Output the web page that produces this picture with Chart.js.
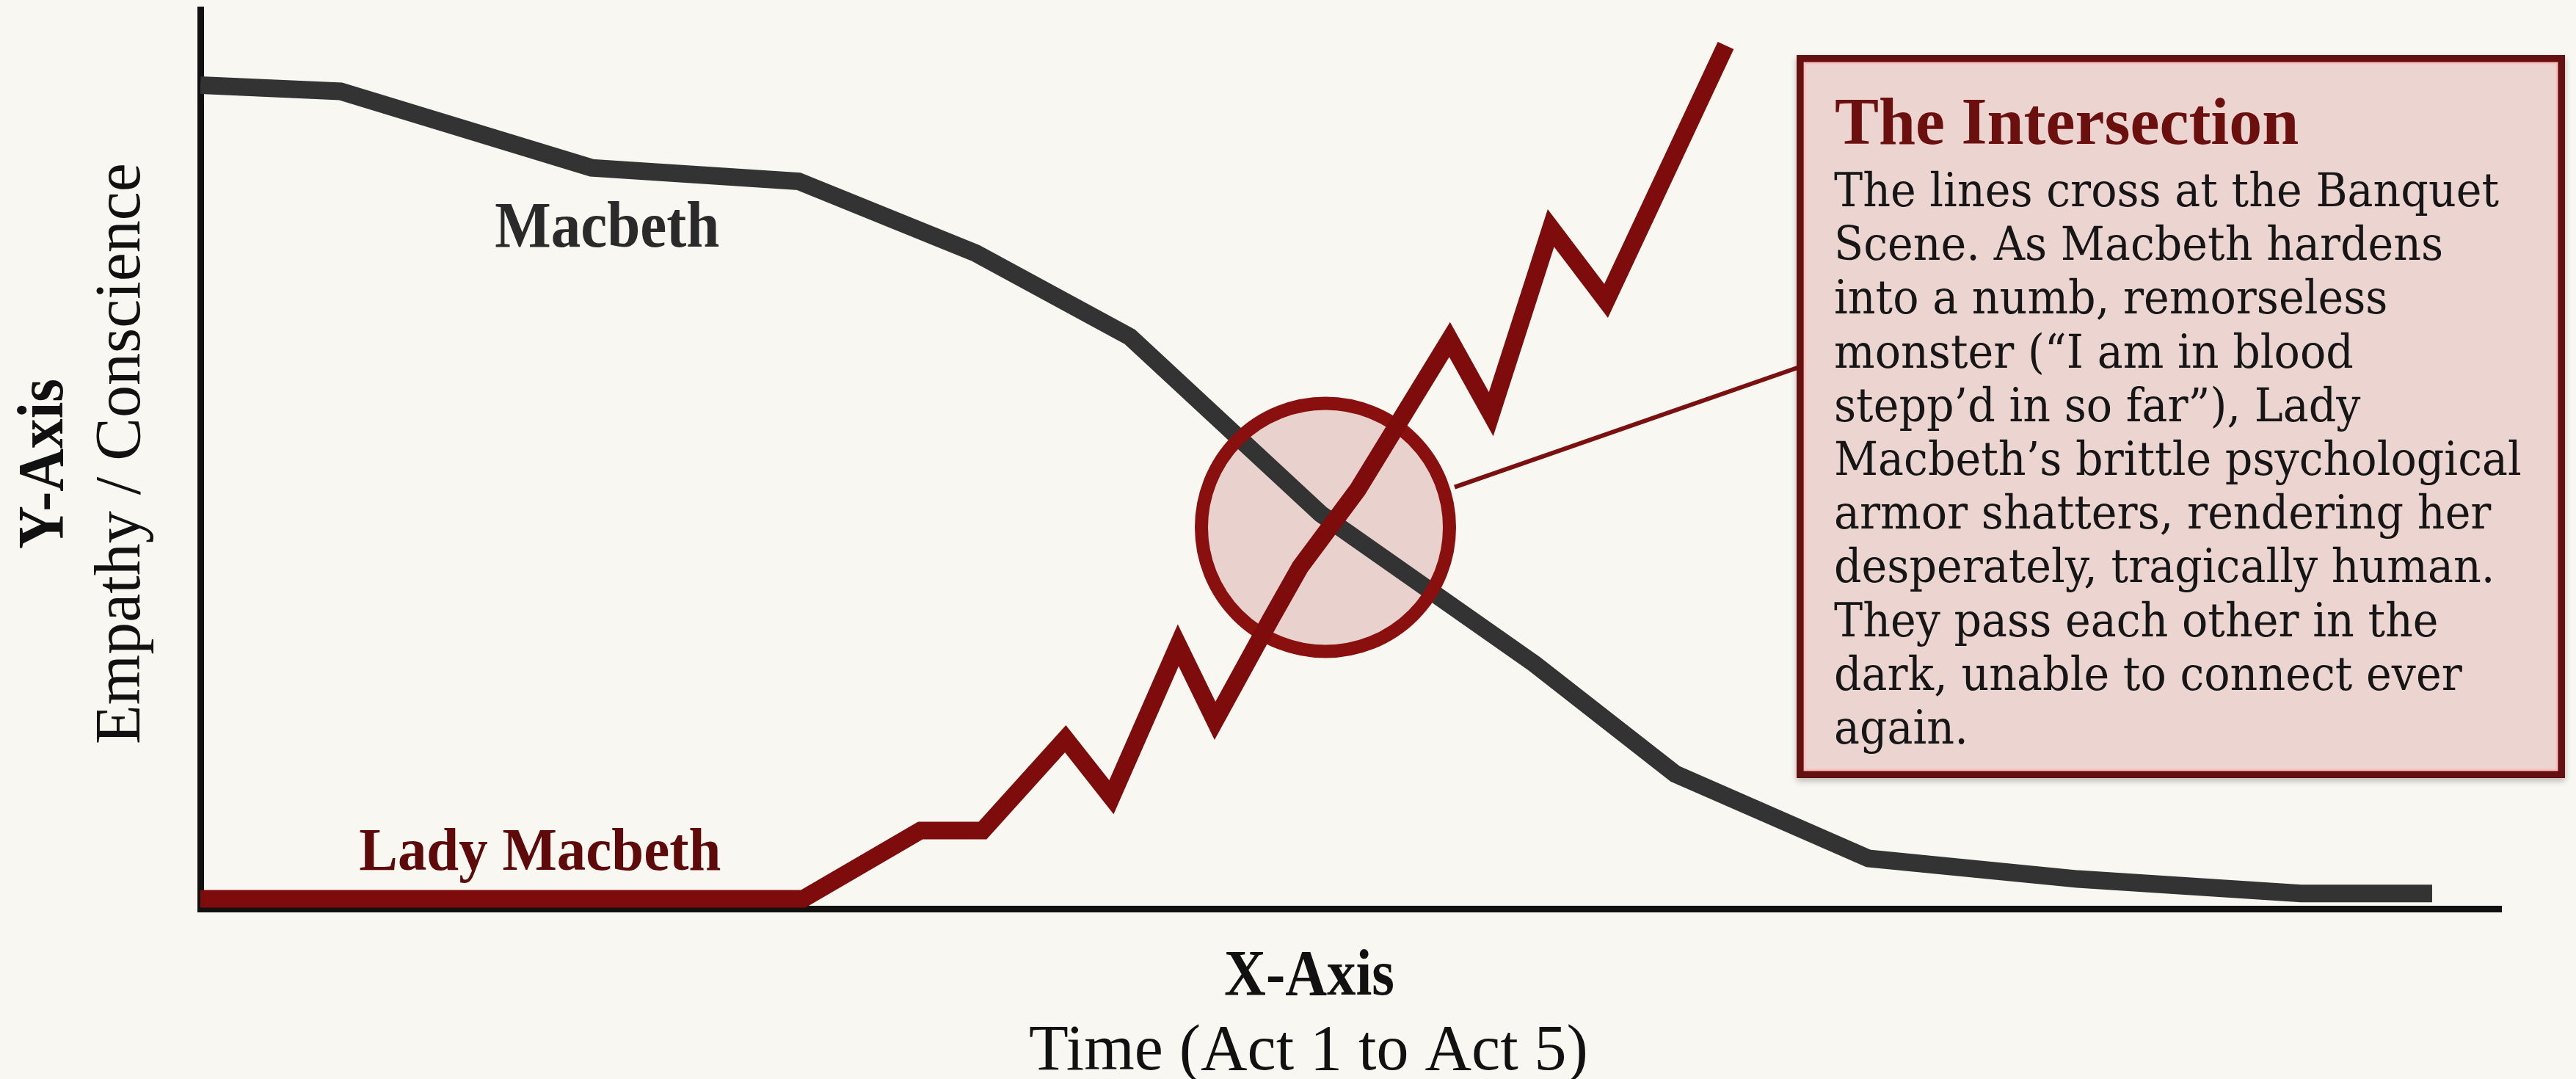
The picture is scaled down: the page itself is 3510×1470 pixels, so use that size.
<!DOCTYPE html>
<html>
<head>
<meta charset="utf-8">
<script src="https://cdn.jsdelivr.net/npm/chart.js@4.4.1/dist/chart.umd.min.js"></script>
<style>
  html, body { margin: 0; padding: 0; background: #f8f7f1; }
  #chart-container { position: relative; width: 3510px; height: 1470px; }
</style>
</head>
<body>
<div id="chart-container"><canvas id="chart" width="3510" height="1470"></canvas></div>
<script>
// time runs 0 (Act 1) .. 100 (Act 5), empathy 0 .. 100
const macbethTime    = [0, 6.1, 17.0, 26.0, 33.7, 40.4, 48.7, 58.0, 64.1, 72.5, 81.6, 91.3, 97.0];
const macbethEmpathy = [91.6, 90.9, 82.4, 80.9, 72.9, 63.6, 43.9, 27.2, 15.0, 5.6, 3.3, 1.7, 1.7];

const ladyTime    = [0, 26.2, 31.3, 34.0, 37.6, 39.6, 42.5, 44.1, 46.5, 47.8, 50.3, 54.3, 56.1, 58.7, 61.1, 66.3];
const ladyEmpathy = [1.1, 1.1, 8.7, 8.7, 18.9, 12.4, 29.3, 20.9, 32.1, 38.0, 46.6, 63.3, 55.0, 75.7, 67.6, 96.0];

const seriesNames = ['Macbeth', 'Lady Macbeth'];
const xTitle = ['X-Axis', 'Time (Act 1 to Act 5)'];
const yTitle = ['Y-Axis', 'Empathy / Conscience'];

// where the lines cross (banquet scene)
const crossing = { x: 48.9, y: 42.4 };

const noteTitle = 'The Intersection';
const noteLines = [
    'The lines cross at the Banquet',
    'Scene. As Macbeth hardens',
    'into a numb, remorseless',
    'monster (\u201CI am in blood',
    'stepp\u2019d in so far\u201D), Lady',
    'Macbeth\u2019s brittle psychological',
    'armor shatters, rendering her',
    'desperately, tragically human.',
    'They pass each other in the',
    'dark, unable to connect ever',
    'again.'
];

const LABEL_FONT = '"Liberation Serif", "DejaVu Serif", serif';
const BODY_FONT = '"DejaVu Serif", "Liberation Serif", serif';
const RED = '#7e0c0c';
const DARK = '#333333';

function toPoints(xs, ys) {
    return xs.map((x, i) => ({ x: x, y: ys[i] }));
}

function text(ctx, str, x, y, font, color, align, maxWidth) {
    ctx.font = font;
    ctx.fillStyle = color;
    ctx.textAlign = align;
    ctx.textBaseline = 'alphabetic';
    if (maxWidth) ctx.fillText(str, x, y, maxWidth);
    else ctx.fillText(str, x, y);
}

const annotations = {
    id: 'annotations',
    beforeDatasetsDraw(chart) {
        const ctx = chart.ctx;
        const cx = chart.scales.x.getPixelForValue(crossing.x);
        const cy = chart.scales.y.getPixelForValue(crossing.y);
        ctx.save();
        ctx.beginPath();
        ctx.arc(cx, cy, 170, 0, Math.PI * 2);
        ctx.fillStyle = 'rgba(205, 140, 140, 0.35)';
        ctx.fill();
        ctx.restore();
    },
    afterDatasetDraw(chart, args) {
        // ring sits over Macbeth but under Lady Macbeth
        if (args.index !== 0) return;
        const ctx = chart.ctx;
        const cx = chart.scales.x.getPixelForValue(crossing.x);
        const cy = chart.scales.y.getPixelForValue(crossing.y);
        ctx.save();
        ctx.beginPath();
        ctx.arc(cx, cy, 169, 0, Math.PI * 2);
        ctx.lineWidth = 18;
        ctx.strokeStyle = '#8a1010';
        ctx.stroke();
        ctx.restore();
    },
    afterDraw(chart) {
        const ctx = chart.ctx;
        const xs = chart.scales.x, ys = chart.scales.y;
        const cx = xs.getPixelForValue(crossing.x);
        const cy = ys.getPixelForValue(crossing.y);
        ctx.save();

        // connector from circle to note box
        const boxL = 2448, boxT = 75, boxR = 3495, boxB = 1060;
        ctx.beginPath();
        ctx.moveTo(cx + 176, cy - 55);
        ctx.lineTo(boxL + 4, 500);
        ctx.lineWidth = 6;
        ctx.strokeStyle = '#7a1010';
        ctx.stroke();

        // note box
        ctx.save();
        ctx.shadowColor = 'rgba(0,0,0,0.25)';
        ctx.shadowBlur = 8;
        ctx.shadowOffsetY = 4;
        ctx.fillStyle = '#ecd5d1';
        ctx.fillRect(boxL, boxT, boxR - boxL, boxB - boxT);
        ctx.restore();
        ctx.lineWidth = 10;
        ctx.strokeStyle = '#651111';
        ctx.strokeRect(boxL + 5, boxT + 5, boxR - boxL - 10, boxB - boxT - 10);
        ctx.lineWidth = 3;
        ctx.strokeStyle = 'rgba(255, 185, 185, 0.8)';
        ctx.strokeRect(boxL + 11, boxT + 11, boxR - boxL - 22, boxB - boxT - 22);

        text(ctx, noteTitle, 2500, 196, 'bold 90px ' + LABEL_FONT, '#6b0f0f', 'left', 662);

        // body copy: tall serif, squeezed so the first line spans ~906px
        ctx.font = '64px ' + BODY_FONT;
        const squeeze = Math.min(1, 906 / ctx.measureText(noteLines[0]).width);
        ctx.save();
        ctx.translate(2499, 0);
        ctx.scale(squeeze, 1);
        noteLines.forEach((line, i) => {
            text(ctx, line, 0, 281 + i * 73.2, '64px ' + BODY_FONT, '#161616', 'left');
        });
        ctx.restore();

        // series labels
        text(ctx, seriesNames[0], xs.getPixelForValue(12.8), ys.getPixelForValue(73.6),
            'bold 88px ' + LABEL_FONT, '#2a2a2a', 'left', 306);
        text(ctx, seriesNames[1], xs.getPixelForValue(6.9), ys.getPixelForValue(4.3),
            'bold 82px ' + LABEL_FONT, '#5e0a0a', 'left', 493);

        // axis titles
        text(ctx, xTitle[0], 1784, 1355, 'bold 88px ' + LABEL_FONT, '#111111', 'center', 232);
        text(ctx, xTitle[1], 1783, 1457, '88px ' + LABEL_FONT, '#111111', 'center', 768);

        ctx.save();
        ctx.translate(85, 632);
        ctx.rotate(-Math.PI / 2);
        text(ctx, yTitle[0], 0, 0, 'bold 88px ' + LABEL_FONT, '#111111', 'center', 232);
        ctx.restore();
        ctx.save();
        ctx.translate(190, 618);
        ctx.rotate(-Math.PI / 2);
        text(ctx, yTitle[1], 0, 0, '88px ' + LABEL_FONT, '#111111', 'center', 795);
        ctx.restore();

        ctx.restore();
    }
};

const ctx = document.getElementById('chart').getContext('2d');
new Chart(ctx, {
    type: 'line',
    data: {
        datasets: [
            {
                label: seriesNames[0],
                data: toPoints(macbethTime, macbethEmpathy),
                borderColor: DARK,
                order: 2
            },
            {
                label: seriesNames[1],
                data: toPoints(ladyTime, ladyEmpathy),
                borderColor: RED,
                order: 1
            }
        ]
    },
    options: {
        responsive: false,
        animation: false,
        devicePixelRatio: 1,
        layout: { padding: { left: 273, right: 102, top: 13, bottom: 232 } },
        elements: {
            point: { radius: 0, hoverRadius: 0 },
            line: {
                borderWidth: 24,
                tension: 0,
                fill: false,
                borderCapStyle: 'butt',
                borderJoinStyle: 'miter'
            }
        },
        scales: {
            x: {
                type: 'linear',
                min: 0,
                max: 100,
                grid: { display: false, drawTicks: false },
                ticks: { display: false },
                border: { display: true, color: '#111111', width: 9 }
            },
            y: {
                type: 'linear',
                min: 0,
                max: 100,
                grid: { display: false, drawTicks: false },
                ticks: { display: false },
                border: { display: true, color: '#111111', width: 9 }
            }
        },
        plugins: {
            legend: { display: false },
            tooltip: { enabled: false }
        }
    },
    plugins: [annotations]
});
</script>
</body>
</html>
